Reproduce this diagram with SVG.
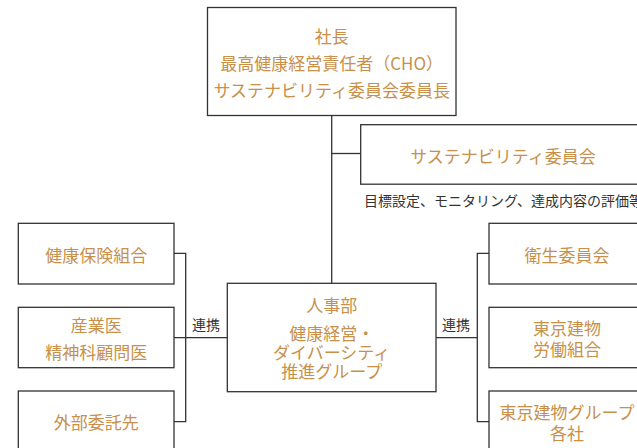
<svg xmlns="http://www.w3.org/2000/svg" width="637" height="448" viewBox="0 0 637 448">
<style>
.box{fill:#fff;stroke:#333;stroke-width:1.3}
.ln{fill:none;stroke:#333;stroke-width:1.3}
.t{font-family:"Noto Sans CJK JP","Noto Sans",sans-serif;font-size:17px;fill:#C8904A;text-anchor:middle;dominant-baseline:central}
.s{font-family:"Noto Sans CJK JP","Noto Sans",sans-serif;font-size:14px;fill:#333;dominant-baseline:central}
</style>
<rect width="637" height="448" fill="#fff"/>
<g id="connectors">
<path class="ln" d="M331.7 115.7V283.3"/>
<path class="ln" d="M331.7 153.5H361"/>
<path class="ln" d="M174 253.3H185.7V421.7H174M174 337.7H227.3"/>
<path class="ln" d="M436 337.7H477.3M489 253.3H477.3V421.7H489"/>
</g>
<g id="president">
<rect class="box" x="207.5" y="7.5" width="248.5" height="108"/>
<text class="t" x="331.7" y="35">社長</text>
<text class="t" x="331.7" y="62.5">最高健康経営責任者（CHO）</text>
<text class="t" x="331.7" y="89">サステナビリティ委員会委員長</text>
</g>
<g id="sustainability">
<rect class="box" x="360.7" y="124.7" width="290" height="59.5"/>
<text class="t" x="503" y="155">サステナビリティ委員会</text>
<text class="s" x="364" y="199.5">目標設定、モニタリング、達成内容の評価等</text>
</g>
<g id="hr">
<rect class="box" x="227.3" y="283.3" width="208.7" height="108.4"/>
<text class="t" x="331.7" y="304.3">人事部</text>
<text class="t" x="331.7" y="332.3">健康経営・</text>
<text class="t" x="331.7" y="351.7">ダイバーシティ</text>
<text class="t" x="331.7" y="370">推進グループ</text>
</g>
<text class="s" x="192" y="323.5">連携</text>
<text class="s" x="442" y="323.5">連携</text>
<g id="kenpo">
<rect class="box" x="18.3" y="223.3" width="155.7" height="60.7"/>
<text class="t" x="96.2" y="254.3">健康保険組合</text>
</g>
<g id="sangyoi">
<rect class="box" x="18.3" y="307.3" width="155.7" height="60.4"/>
<text class="t" x="96.2" y="324.3">産業医</text>
<text class="t" x="96.2" y="351.7">精神科顧問医</text>
</g>
<g id="gaibu">
<rect class="box" x="18.3" y="391" width="155.7" height="70"/>
<text class="t" x="96.2" y="421.7">外部委託先</text>
</g>
<g id="eisei">
<rect class="box" x="489" y="223.3" width="160" height="60.7"/>
<text class="t" x="567" y="254.3">衛生委員会</text>
</g>
<g id="union">
<rect class="box" x="489" y="307.3" width="160" height="60.4"/>
<text class="t" x="567" y="327.7">東京建物</text>
<text class="t" x="567" y="348.3">労働組合</text>
</g>
<g id="group">
<rect class="box" x="489" y="391" width="160" height="70"/>
<text class="t" x="567" y="411.7">東京建物グループ</text>
<text class="t" x="567" y="432.3">各社</text>
</g>
</svg>
